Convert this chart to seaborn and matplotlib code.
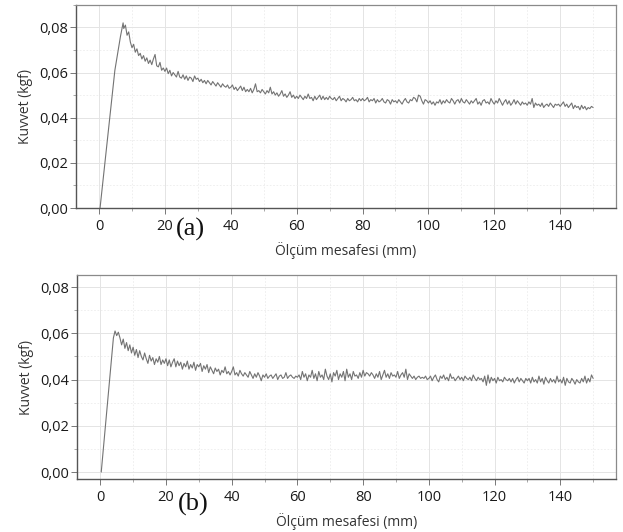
import numpy as np
import matplotlib
matplotlib.use("Agg")
import matplotlib.pyplot as plt
import seaborn as sns
from matplotlib.ticker import MultipleLocator, FuncFormatter

# Force readings in thousandths of kgf (x10^-3), sampled every 0.5 mm after the rise

# panel (a)
rise_a_x = [0.3, 4.8, 6.5, 7.3]
rise_a_y = [0.0, 61.0, 76.0, 82.0]
start_a = 7.5
force_a = [
    79.5, 81.0, 76.5, 78.0, 73.5,
    71.0, 72.5, 69.0, 70.5, 67.5, 68.5, 66.0, 67.5, 65.0, 66.5, 64.0, 65.5, 63.5, 66.0, 68.0, 63.0, 62.5, 64.5, 61.0, 62.0,
    60.5, 62.0, 59.5, 61.0, 58.5, 60.0, 59.0, 58.0, 60.5, 58.0, 57.5, 59.0, 57.0, 58.5, 56.5, 58.0, 57.5, 56.0, 58.5, 57.0,
    57.5, 56.0, 57.0, 55.5, 56.5, 55.0, 56.5, 55.5, 54.5, 56.0, 55.0, 54.0, 55.5, 54.5, 53.5, 55.0, 54.0, 53.5, 54.5, 53.0,
    53.5, 54.5, 52.5, 53.5, 52.0, 53.0, 54.0, 52.0, 53.5, 51.5, 52.5, 51.5, 53.0, 51.0, 52.5, 55.0, 51.5, 52.0, 51.0, 52.5,
    51.5, 50.5, 52.0, 51.0, 53.5, 50.5, 51.5, 50.0, 51.0, 49.5, 50.5, 52.0, 49.5, 50.5, 49.0, 50.0, 51.5, 49.0, 50.0, 48.5,
    49.5, 48.5, 50.0, 49.0, 48.0, 49.5, 48.5, 50.5, 48.5, 49.0, 47.5, 49.5, 48.0, 49.0, 50.0, 48.0, 49.5, 48.0, 49.0, 48.0,
    49.5, 48.5, 48.0, 49.0, 47.5, 48.5, 49.5, 47.5, 48.5, 48.0, 47.0, 48.5, 47.5, 48.0, 49.0, 47.5, 48.0, 47.0, 48.5, 47.5,
    48.5, 47.5, 48.0, 49.0, 47.0, 48.0, 47.5, 48.5, 46.5, 48.0, 47.0, 47.5, 48.5, 47.0, 46.5, 48.0, 47.5, 46.0, 48.0, 47.0,
    47.5, 46.5, 48.0, 47.0, 46.0, 47.5, 48.5, 47.0, 46.5, 48.0, 47.5, 49.0, 48.5, 47.0, 50.0, 49.5, 47.5, 46.0, 48.0, 47.5,
    46.5, 47.5, 46.0, 47.0, 45.5, 47.0, 46.5, 48.0, 46.0, 47.5, 46.5, 48.0, 47.0, 46.5, 48.5, 47.5, 46.0, 47.5, 48.0, 46.5,
    48.5, 47.0, 46.5, 48.0, 47.0, 46.0, 47.5, 46.5, 47.5, 48.5, 46.0, 47.0, 45.5, 47.5, 48.0, 46.5, 47.0, 46.0, 48.5, 47.0,
    46.0, 47.5, 46.5, 48.5, 47.0, 45.5, 47.0, 48.0, 46.0, 47.5, 45.5, 46.5, 48.0, 46.0, 47.5, 46.5, 45.5, 47.0, 46.0, 46.5,
    45.5, 47.0, 46.0, 48.5, 44.5, 46.5, 45.5, 46.0, 45.0, 46.5, 44.5, 45.5, 46.0, 45.0, 46.5, 45.5, 44.5, 46.0, 45.5, 46.0,
    45.0, 46.0, 47.0, 45.0, 46.0, 44.5, 45.5, 46.5, 44.0, 45.5, 44.5, 45.0, 43.5, 45.5, 44.0, 45.0, 43.5, 44.5, 44.0, 45.0,
    44.5,
]

# panel (b)
rise_b_x = [0.3, 4.0, 4.5]
rise_b_y = [0.0, 58.0, 61.0]
start_b = 5.0
force_b = [
    59.0, 60.5, 58.0, 55.0, 57.5, 53.5, 56.0, 52.5, 55.0, 51.5,
    54.0, 50.5, 53.0, 49.5, 52.5, 50.0, 48.5, 51.5, 49.0, 47.0, 50.5, 48.0, 49.5, 46.5, 49.0, 47.5, 50.0, 46.5, 48.5, 47.0,
    49.0, 46.0, 48.5, 45.5, 47.5, 49.0, 45.5, 48.0, 46.0, 47.5, 44.5, 47.0, 45.5, 48.0, 44.5, 46.5, 45.0, 47.5, 44.0, 46.5,
    45.5, 47.0, 43.5, 46.0, 44.5, 46.5, 43.0, 45.5, 44.0, 42.5, 45.0, 43.5, 44.5, 42.0, 44.0, 43.0, 45.5, 42.5, 43.5, 42.0,
    43.5, 45.5, 42.0, 43.0, 41.5, 44.0, 42.5, 41.5, 43.0, 42.0, 41.0, 43.5, 42.0, 40.5, 42.5, 41.0, 43.0, 41.5, 39.5, 42.0,
    41.0, 42.5, 40.5, 41.5, 42.0, 40.5, 41.5, 42.5, 40.0, 41.5, 42.0, 40.5, 41.0, 43.0, 40.5, 41.5, 42.0, 41.0, 40.5, 41.5,
    41.0, 42.0, 40.0, 43.5, 41.0, 42.5, 39.5, 42.0, 41.0, 44.0, 40.5, 42.5, 39.5, 43.5, 41.0, 42.0, 40.0, 44.5, 41.5, 40.0,
    42.5, 39.0, 43.0, 41.5, 44.0, 40.0, 42.5, 41.0, 43.5, 39.5, 44.5, 41.0, 42.5, 40.0, 43.5, 41.5, 42.0, 40.5, 43.0, 41.0,
    44.0, 41.5, 43.0, 42.5, 41.5, 43.0, 42.0, 40.5, 42.5, 41.0, 43.5, 40.0, 42.0, 44.0, 41.0, 42.5, 40.5, 43.0, 41.5, 42.0,
    41.0, 43.5, 40.5, 42.0, 43.0, 41.0, 44.5, 40.0, 42.5, 41.5, 40.5, 41.5, 40.0, 41.0, 41.5, 40.5, 41.0, 40.5, 41.5, 40.0,
    40.5, 41.5, 39.5, 41.0, 42.0, 40.0, 39.0, 41.5, 40.5, 42.0, 40.0, 41.0, 39.5, 42.5, 40.5, 41.0, 39.5, 40.5, 41.5, 40.0,
    41.0, 39.5, 41.5, 40.5, 40.0, 41.0, 39.5, 42.0, 40.5, 39.5, 41.0, 40.0, 40.5, 39.0, 41.5, 37.5, 42.0, 38.5, 41.0, 39.5,
    40.5, 38.5, 41.0, 39.5, 40.0, 39.0, 41.0, 40.0, 39.5, 40.5, 39.0, 40.5, 38.5, 40.0, 41.0, 39.0, 40.5, 39.5, 38.5, 40.5,
    39.5, 40.5, 38.5, 41.0, 39.0, 40.0, 38.5, 41.5, 39.0, 40.5, 38.0, 41.0, 39.5, 38.5, 40.5, 39.0, 40.0, 38.5, 41.5, 39.0,
    40.0, 38.5, 41.0, 37.5, 40.5, 39.0, 38.5, 40.5, 39.5, 38.0, 40.0, 39.0, 38.5, 40.5, 39.0, 41.5, 38.5, 40.5, 39.0, 42.0,
    40.5,
]

x_ticks = [0, 20, 40, 60, 80, 100, 120, 140]
y_ticks = [0.00, 0.02, 0.04, 0.06, 0.08]
x_label = "Ölçüm mesafesi (mm)"
y_label = "Kuvvet (kgf)"


def build_series(rise_x, rise_y, start, values):
    step_x = start + 0.5 * np.arange(len(values))
    x = np.concatenate([rise_x, step_x])
    y = np.concatenate([rise_y, values]) / 1000.0
    return x, y


sns.set_theme(style="whitegrid")
plt.rcParams['font.family'] = ['Open Sans', 'DejaVu Sans']

fig = plt.figure(figsize=(6.23, 5.32), dpi=100)
ax_a = fig.add_axes([0.122, 0.609, 0.867, 0.382])
ax_b = fig.add_axes([0.124, 0.0996, 0.865, 0.3834])

panels = [
    (ax_a, build_series(rise_a_x, rise_a_y, start_a, force_a), (0.0, 0.09), "(a)", (0.305, 0.568)),
    (ax_b, build_series(rise_b_x, rise_b_y, start_b, force_b), (-0.003, 0.0852), "(b)", (0.310, 0.052)),
]

comma = FuncFormatter(lambda v, p: f"{v:.2f}".replace(".", ","))

for ax, (x, y), ylim, tag, tag_pos in panels:
    ax.set_facecolor("white")
    sns.lineplot(x=x, y=y, ax=ax, color="#737373", linewidth=0.8,
                 estimator=None, sort=False)
    ax.set_xlim(-7, 157)
    ax.set_ylim(*ylim)
    ax.set_xticks(x_ticks)
    ax.set_yticks(y_ticks)
    ax.yaxis.set_major_formatter(comma)
    ax.xaxis.set_minor_locator(MultipleLocator(10))
    ax.yaxis.set_minor_locator(MultipleLocator(0.01))

    ax.grid(which="major", color="#e4e4e4", linestyle="-", linewidth=0.7)
    ax.grid(which="minor", color="#ececec", linestyle=(0, (2, 2)), linewidth=0.6)
    ax.set_axisbelow(True)

    for side in ["left", "bottom"]:
        ax.spines[side].set_color("#555555")
        ax.spines[side].set_linewidth(1.0)
    for side in ["top", "right"]:
        ax.spines[side].set_color("#8a8a8a")
        ax.spines[side].set_linewidth(0.9)

    ax.tick_params(which="major", direction="out", length=4, width=0.7,
                   color="#777777", labelsize=10.5, labelcolor="#1a1a1a", pad=2,
                   left=True, bottom=True)
    ax.tick_params(which="minor", direction="out", length=2, width=0.6,
                   color="#999999", left=True, bottom=True)
    ax.tick_params(axis="x", pad=4)

    ax.set_xlabel(x_label, fontsize=10, color="#333333", labelpad=6)
    ax.set_ylabel(y_label, fontsize=10, color="#333333", labelpad=4)

    fig.text(tag_pos[0], tag_pos[1], tag, fontsize=19, family="Liberation Serif",
             color="#111111", ha="center", va="center")

fig.savefig("out.png", dpi=100)
